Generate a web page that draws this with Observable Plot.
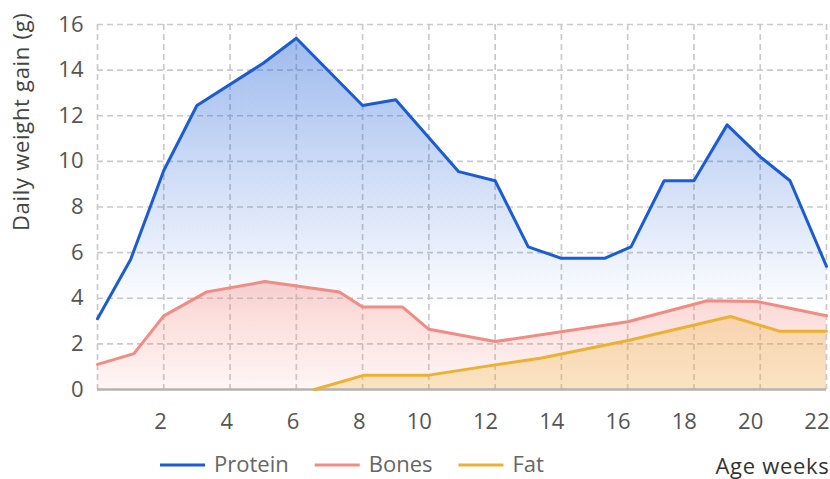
<!DOCTYPE html>
<html><head><meta charset="utf-8">
<script src="https://cdn.jsdelivr.net/npm/d3@7"></script>
<script src="https://cdn.jsdelivr.net/npm/@observablehq/plot@0.6"></script>
<style>
body{margin:0;background:#fff;}
#chart svg{display:block;}
</style>
</head><body><div id="chart"></div>
<script>
const seriesNames = ["Protein", "Bones", "Fat"];
const seriesColors = ["#1a5cd6", "#f28b82", "#eeb030"];

const proteinWeeks = [0, 1, 2, 3, 5, 6, 8, 9, 10.9, 12, 13, 14, 15.3, 16.1, 17.1, 18, 19, 20, 20.9, 22];
const proteinGain  = [3.1, 5.7, 9.6, 12.45, 14.3, 15.4, 12.45, 12.7, 9.55, 9.15, 6.25, 5.75, 5.75, 6.25, 9.15, 9.15, 11.6, 10.2, 9.15, 5.4];

const bonesWeeks = [0, 1.1, 2, 3.3, 5.05, 7.3, 8, 9.2, 10, 12, 16, 18.4, 19.9, 22];
const bonesGain  = [1.1, 1.57, 3.23, 4.28, 4.73, 4.27, 3.62, 3.62, 2.64, 2.1, 2.97, 3.89, 3.86, 3.23];

const fatWeeks = [6.55, 8.05, 10, 12, 13.4, 16.05, 19.1, 20.6, 22];
const fatGain  = [0, 0.63, 0.63, 1.08, 1.38, 2.16, 3.2, 2.55, 2.55];

const xGridTicks = [0, 2, 4, 6, 8, 10, 12, 14, 16, 18, 20, 22];
const xLabelTicks = [2, 4, 6, 8, 10, 12, 14, 16, 18, 20, 22];
const yGridTicks = [2, 4, 6, 8, 10, 12, 14, 16];
const yLabelTicks = [0, 2, 4, 6, 8, 10, 12, 14, 16];
const yTitle = "Daily weight gain (g)";
const xTitle = "Age weeks";

const rows = (weeks, vals, s) => weeks.map((w, i) => ({week: w, gain: vals[i], series: s}));
const protein = rows(proteinWeeks, proteinGain, seriesNames[0]);
const bones = rows(bonesWeeks, bonesGain, seriesNames[1]);
const fat = rows(fatWeeks, fatGain, seriesNames[2]);

const FONT = "'Open Sans', 'Noto Sans', sans-serif";

const plot = Plot.plot({
  width: 830,
  height: 479,
  marginLeft: 97,
  marginRight: 4,
  marginTop: 24,
  marginBottom: 90,
  style: {fontFamily: FONT, fontSize: "22px", background: "#fff", overflow: "visible"},
  x: {domain: [0, 22]},
  y: {domain: [0, 16]},
  marks: [
    Plot.gridX(xGridTicks, {stroke: "#cacaca", strokeOpacity: 1, strokeWidth: 1.7, strokeDasharray: "6,4"}),
    Plot.gridY(yGridTicks, {stroke: "#cacaca", strokeOpacity: 1, strokeWidth: 1.7, strokeDasharray: "6,4"}),
    Plot.areaY(protein, {x: "week", y: "gain", fill: "url(#gProtein)"}),
    Plot.areaY(bones, {x: "week", y: "gain", fill: "url(#gBones)"}),
    Plot.areaY(fat, {x: "week", y: "gain", fill: "url(#gFat)"}),
    Plot.ruleY([0], {stroke: "#b3b3b3", strokeWidth: 2.5}),
    Plot.lineY(protein, {x: "week", y: "gain", stroke: seriesColors[0], strokeWidth: 3}),
    Plot.lineY(bones, {x: "week", y: "gain", stroke: seriesColors[1], strokeWidth: 3}),
    Plot.lineY(fat, {x: "week", y: "gain", stroke: seriesColors[2], strokeWidth: 3}),
    Plot.axisX(xLabelTicks, {tickSize: 0, tickPadding: 24, fontSize: 22, textAnchor: "end", dx: 3, fill: "#555", label: null}),
    Plot.axisY(yLabelTicks, {tickSize: 0, tickPadding: 14, fontSize: 22, fill: "#555", label: null}),
    Plot.text([yTitle], {text: d => d, frameAnchor: "top-left", rotate: -90, textAnchor: "end", lineAnchor: "bottom", dx: -69, dy: -12, fontSize: 22, fill: "#444"}),
    Plot.text([xTitle], {text: d => d, frameAnchor: "bottom-right", textAnchor: "end", lineAnchor: "bottom", dx: 3, dy: 84, fontSize: 22, fill: "#333"})
  ]
});

document.getElementById("chart").appendChild(plot);

const svg = d3.select(plot);
svg.selectAll("text").filter(function() { return this.textContent === xTitle || this.textContent === yTitle; })
  .style("letter-spacing", "0.7px");
const defs = svg.insert("defs", ":first-child");
function grad(id, color, stops) {
  const g = defs.append("linearGradient").attr("id", id).attr("x1", 0).attr("y1", 0).attr("x2", 0).attr("y2", 1);
  stops.forEach(([o, a]) => g.append("stop").attr("offset", o).attr("stop-color", color).attr("stop-opacity", a));
}
grad("gProtein", seriesColors[0], [[0, 0.42], [0.78, 0], [1, 0]]);
grad("gBones", seriesColors[1], [[0, 0.38], [1, 0.08]]);
grad("gFat", seriesColors[2], [[0, 0.26], [1, 0.26]]);

// legend below the plot frame
const leg = svg.append("g").attr("font-family", FONT).attr("font-size", 22).attr("text-anchor", "start");
let lx = 160;
seriesNames.forEach((name, i) => {
  leg.append("line").attr("x1", lx).attr("x2", lx + 45).attr("y1", 465).attr("y2", 465)
    .attr("stroke", seriesColors[i]).attr("stroke-width", 3);
  const t = leg.append("text").attr("x", lx + 54).attr("y", 472).attr("fill", "#666").attr("text-anchor", "start").text(name);
  lx = lx + 54 + t.node().getComputedTextLength() + 26;
});
</script>
</body></html>
